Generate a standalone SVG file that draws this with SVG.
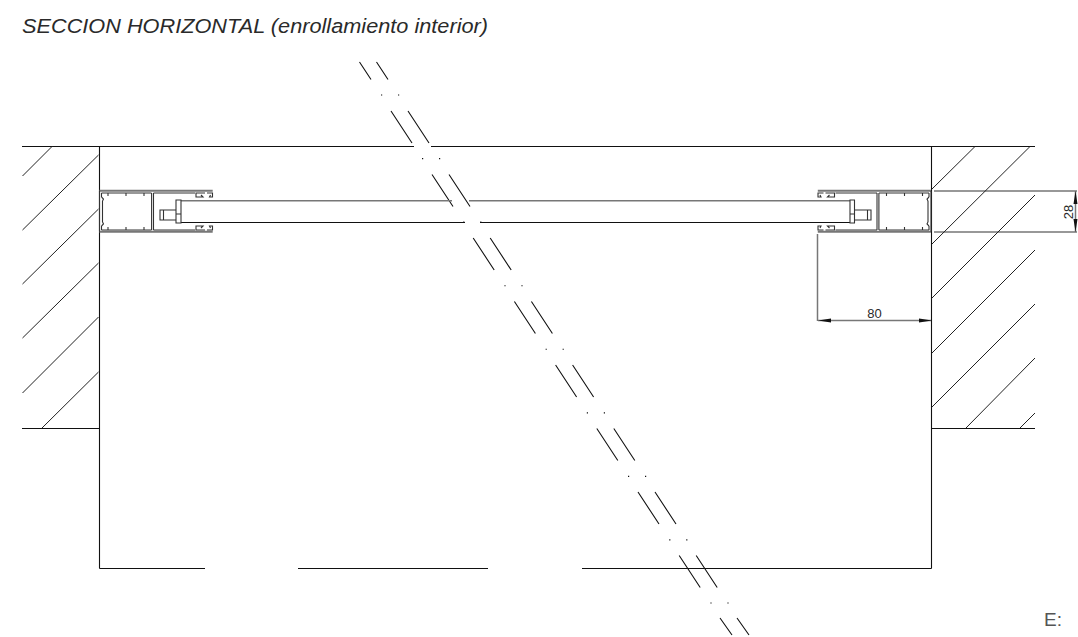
<svg xmlns="http://www.w3.org/2000/svg" width="1078" height="637" viewBox="0 0 1078 637">
<defs>
<style>
.k{fill:none;stroke:#111;stroke-width:1.1}
.g{fill:none;stroke:#777;stroke-width:1.5}
.h{fill:none;stroke:#222;stroke-width:1}
.p{fill:none;stroke:#333;stroke-width:1.1}
.t{font-family:"Liberation Sans",Arial,sans-serif;fill:#2a2a2a}
.a{fill:#111}
</style>
<path id="pair" d="M391 111L412 143M408 111L429 143"/>
<path id="dots" d="M381 95h1.200M398 95h1.200"/>
<g id="prof">
<path d="M99.500 190.700H212.700M99.500 231.700H212.700" class="g" style="stroke-width:2"/>
<path d="M99.500 191V231.500M101.500 193H151.500M101.500 230H151.500M101.500 193V197M101.500 226V230M102.500 201V222M151.600 193V230M153.500 193V230M153.500 193H195M153.500 230H195" class="p"/>
<path d="M108 193v3M126 193v3M144 193v3M108 230v-3M126 230v-3M144 230v-3M101.500 197l2 2-1 2M101.500 226l2-2-1-2" class="p"/>
<path d="M205 193h-9v4h7l-2-2" class="p"/>
<path d="M207 193h5.500v4h-3l1-2" class="p"/>
<path d="M205 230h-9v-4h7l-2 2" class="p"/>
<path d="M207 230h5.500v-4h-3l1 2" class="p"/>
</g>
</defs>
<text class="t" x="22" y="33" font-size="20" font-style="italic" textLength="466" lengthAdjust="spacingAndGlyphs">SECCION HORIZONTAL (enrollamiento interior)</text>
<g id="connectors">
<g id="break-line" class="k">
<path d="M359.500 62L371 79.500M376.500 62L388 79.500"/>
<use href="#dots"/><use href="#pair"/>
<use href="#dots" x="41" y="63.600"/><use href="#pair" x="41" y="63.500"/>
<use href="#dots" x="82.200" y="127.100"/><use href="#pair" x="82.200" y="127"/>
<use href="#dots" x="123.400" y="190.700"/><use href="#pair" x="123.400" y="190.500"/>
<use href="#dots" x="164.600" y="254.300"/><use href="#pair" x="164.600" y="254"/>
<use href="#dots" x="205.800" y="317.900"/><use href="#pair" x="205.800" y="317.500"/>
<use href="#dots" x="247" y="381.400"/><use href="#pair" x="247" y="381"/>
<use href="#dots" x="288.200" y="444.900"/><use href="#pair" x="288.200" y="444.500"/>
<use href="#dots" x="329.400" y="508"/>
<path d="M720 618L732 635M737 618L749 635"/>
</g>
<g id="dimension-80">
<path class="g" d="M817.500 234V321M818 320.500H932"/>
<path class="a" d="M818 320.500L831 318.500V322.500ZM932 320.500L919 318.500V322.500Z"/>
<text class="t" x="874.500" y="318" font-size="13" text-anchor="middle">80</text>
</g>
<g id="dimension-28">
<path class="g" d="M934 191H1077M934 232H1077M1075.500 191V232"/>
<path class="a" d="M1075.500 191L1073.500 204H1077.500ZM1075.500 232L1073.500 219H1077.500Z"/>
<text class="t" transform="translate(1073 212) rotate(-90)" font-size="13" text-anchor="middle">28</text>
</g>
</g>
<g id="wall-left" class="k">
<path d="M22 146.500H414M22 428.500H99.500M99.500 146V568.500"/>
<path class="h" d="M22.500 176L52 146.500M22.500 230L98.500 155M22.500 284L98.500 209M22.500 338L98.500 263M22.500 393L98.500 317M42 428L98.500 372"/>
</g>
<g id="wall-right" class="k">
<path d="M431 146.500H1035M931.500 428.500H1035M931.500 146V568.500"/>
<path class="h" d="M932 189L975 146.500M932 244L1030 146.500M932 298L1035 195M932 353L1035 250M932 407L1035 304M966 428L1035 358M1020 428L1035 413"/>
</g>
<g id="base"><path class="k" d="M99.500 568.500H205M298 568.500H488M582 568.500H931.500"/></g>
<g id="frame-left"><use href="#prof"/></g>
<g id="frame-right"><use href="#prof" transform="translate(1030.500 0) scale(-1 1)"/></g>
<g id="panel">
<path class="g" d="M181 200.700H452M469 200.700H850"/>
<path class="k" d="M181 222.500H465M480 222.500H850"/>
<path class="p" d="M176 200H181V223H176ZM176 214H181M176 210H160V220H176M163.500 210V220M850 200H854.500V223H850ZM850 214H854.500M854.500 210H871V220H854.500M867.500 210V220"/>
</g>
<text class="t" x="1044" y="626" font-size="19" style="fill:#555">E:</text>
</svg>
